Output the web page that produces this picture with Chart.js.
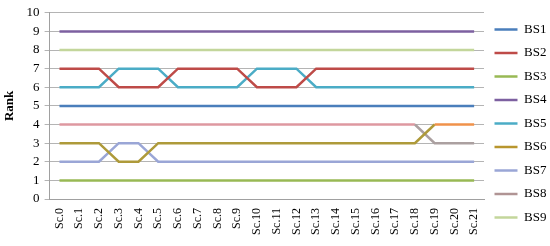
<!DOCTYPE html>
<html>
<head>
<meta charset="utf-8">
<script src="https://cdn.jsdelivr.net/npm/chart.js@4/dist/chart.umd.min.js"></script>
<style>
  html, body { margin: 0; padding: 0; background: #fff; }
  #wrap { width: 550px; height: 246px; }
</style>
</head>
<body>
<div id="wrap"><canvas id="rankChart"></canvas></div>
<script>
// categorias del eje x
const escenarios = ["Sc.0","Sc.1","Sc.2","Sc.3","Sc.4","Sc.5","Sc.6","Sc.7","Sc.8","Sc.9","Sc.10",
  "Sc.11","Sc.12","Sc.13","Sc.14","Sc.15","Sc.16","Sc.17","Sc.18","Sc.19","Sc.20","Sc.21"];
const yTicks = [0,1,2,3,4,5,6,7,8,9,10];

// rank de cada BS por escenario
const bs1 = [5,5,5,5,5,5,5,5,5,5,5,5,5,5,5,5,5,5,5,5,5,5];
const bs2 = [7,7,7,6,6,6,7,7,7,7,6,6,6,7,7,7,7,7,7,7,7,7];
const bs3 = [1,1,1,1,1,1,1,1,1,1,1,1,1,1,1,1,1,1,1,1,1,1];
const bs4 = [9,9,9,9,9,9,9,9,9,9,9,9,9,9,9,9,9,9,9,9,9,9];
const bs5 = [6,6,6,7,7,7,6,6,6,6,7,7,7,6,6,6,6,6,6,6,6,6];
const bs6 = [3,3,3,2,2,3,3,3,3,3,3,3,3,3,3,3,3,3,3,4,4,4];
const bs7 = [2,2,2,3,3,2,2,2,2,2,2,2,2,2,2,2,2,2,2,2,2,2];
const bs8 = [4,4,4,4,4,4,4,4,4,4,4,4,4,4,4,4,4,4,4,3,3,3];
const bs9 = [8,8,8,8,8,8,8,8,8,8,8,8,8,8,8,8,8,8,8,8,8,8];

const nombres = ["BS1","BS2","BS3","BS4","BS5","BS6","BS7","BS8","BS9"];
const series = [bs1, bs2, bs3, bs4, bs5, bs6, bs7, bs8, bs9];
const colores = ["#4A7EBB","#BE4B48","#98B954","#7D60A0","#4BACC6","#AE9A3A","#9AA6D6","#DE98A0","#C3D69B"];
const coloresLeyenda = ["#4A7EBB","#BE4B48","#98B954","#7D60A0","#4BACC6","#B8962E","#9AA6D6","#B09494","#C3D69B"];

const fuente = "'Liberation Serif', 'Times New Roman', serif";

const datasets = series.map((d, i) => {
  const ds = {
    label: nombres[i],
    data: d,
    borderColor: colores[i],
    backgroundColor: colores[i],
    borderWidth: 2.5,
    pointRadius: 0,
    pointHoverRadius: 0,
    tension: 0,
    fill: false
  };
  // al final las lineas cambian de tono (como en el original)
  if (i === 5) ds.segment = { borderColor: c => c.p0DataIndex >= 19 ? "#F0924A" : undefined };
  if (i === 7) ds.segment = { borderColor: c => c.p0DataIndex >= 18 ? "#ABA0A0" : undefined };
  return ds;
});

const ctx = document.getElementById("rankChart").getContext("2d");

new Chart(ctx, {
  type: "line",
  data: { labels: escenarios, datasets: datasets },
  options: {
    responsive: true,
    maintainAspectRatio: false,
    animation: false,
    layout: { padding: { top: 3, right: 0, bottom: 2, left: 2 } },
    plugins: {
      tooltip: { enabled: false },
      legend: {
        position: "right",
        maxWidth: 66,
        labels: {
          usePointStyle: true,
          pointStyle: "line",
          pointStyleWidth: 23,
          boxWidth: 23,
          padding: 10.5,
          color: "#000",
          font: { family: fuente, size: 13 },
          generateLabels: chart => chart.data.datasets.map((ds, i) => ({
            text: ds.label,
            strokeStyle: coloresLeyenda[i],
            fillStyle: coloresLeyenda[i],
            lineWidth: 2.5,
            pointStyle: "line",
            datasetIndex: i,
            fontColor: "#000"
          }))
        }
      }
    },
    scales: {
      x: {
        offset: true,
        grid: { display: false, drawTicks: false, tickLength: 0 },
        border: { display: true, color: "#A0A0A0" },
        ticks: {
          color: "#000",
          minRotation: 90,
          maxRotation: 90,
          autoSkip: false,
          padding: 9,
          font: { family: fuente, size: 12 }
        }
      },
      y: {
        min: 0,
        max: 10,
        afterBuildTicks: axis => { axis.ticks = yTicks.map(v => ({ value: v })); },
        grid: { color: "#B4B4B4", lineWidth: 1, tickLength: 5 },
        border: { display: true, color: "#A0A0A0" },
        title: {
          display: true,
          text: "Rank",
          color: "#000",
          font: { family: fuente, size: 13, weight: "bold" },
          padding: { top: 0, bottom: 4 }
        },
        ticks: {
          color: "#000",
          autoSkip: false,
          padding: 5,
          font: { family: fuente, size: 13 }
        }
      }
    }
  }
});
</script>
</body>
</html>
